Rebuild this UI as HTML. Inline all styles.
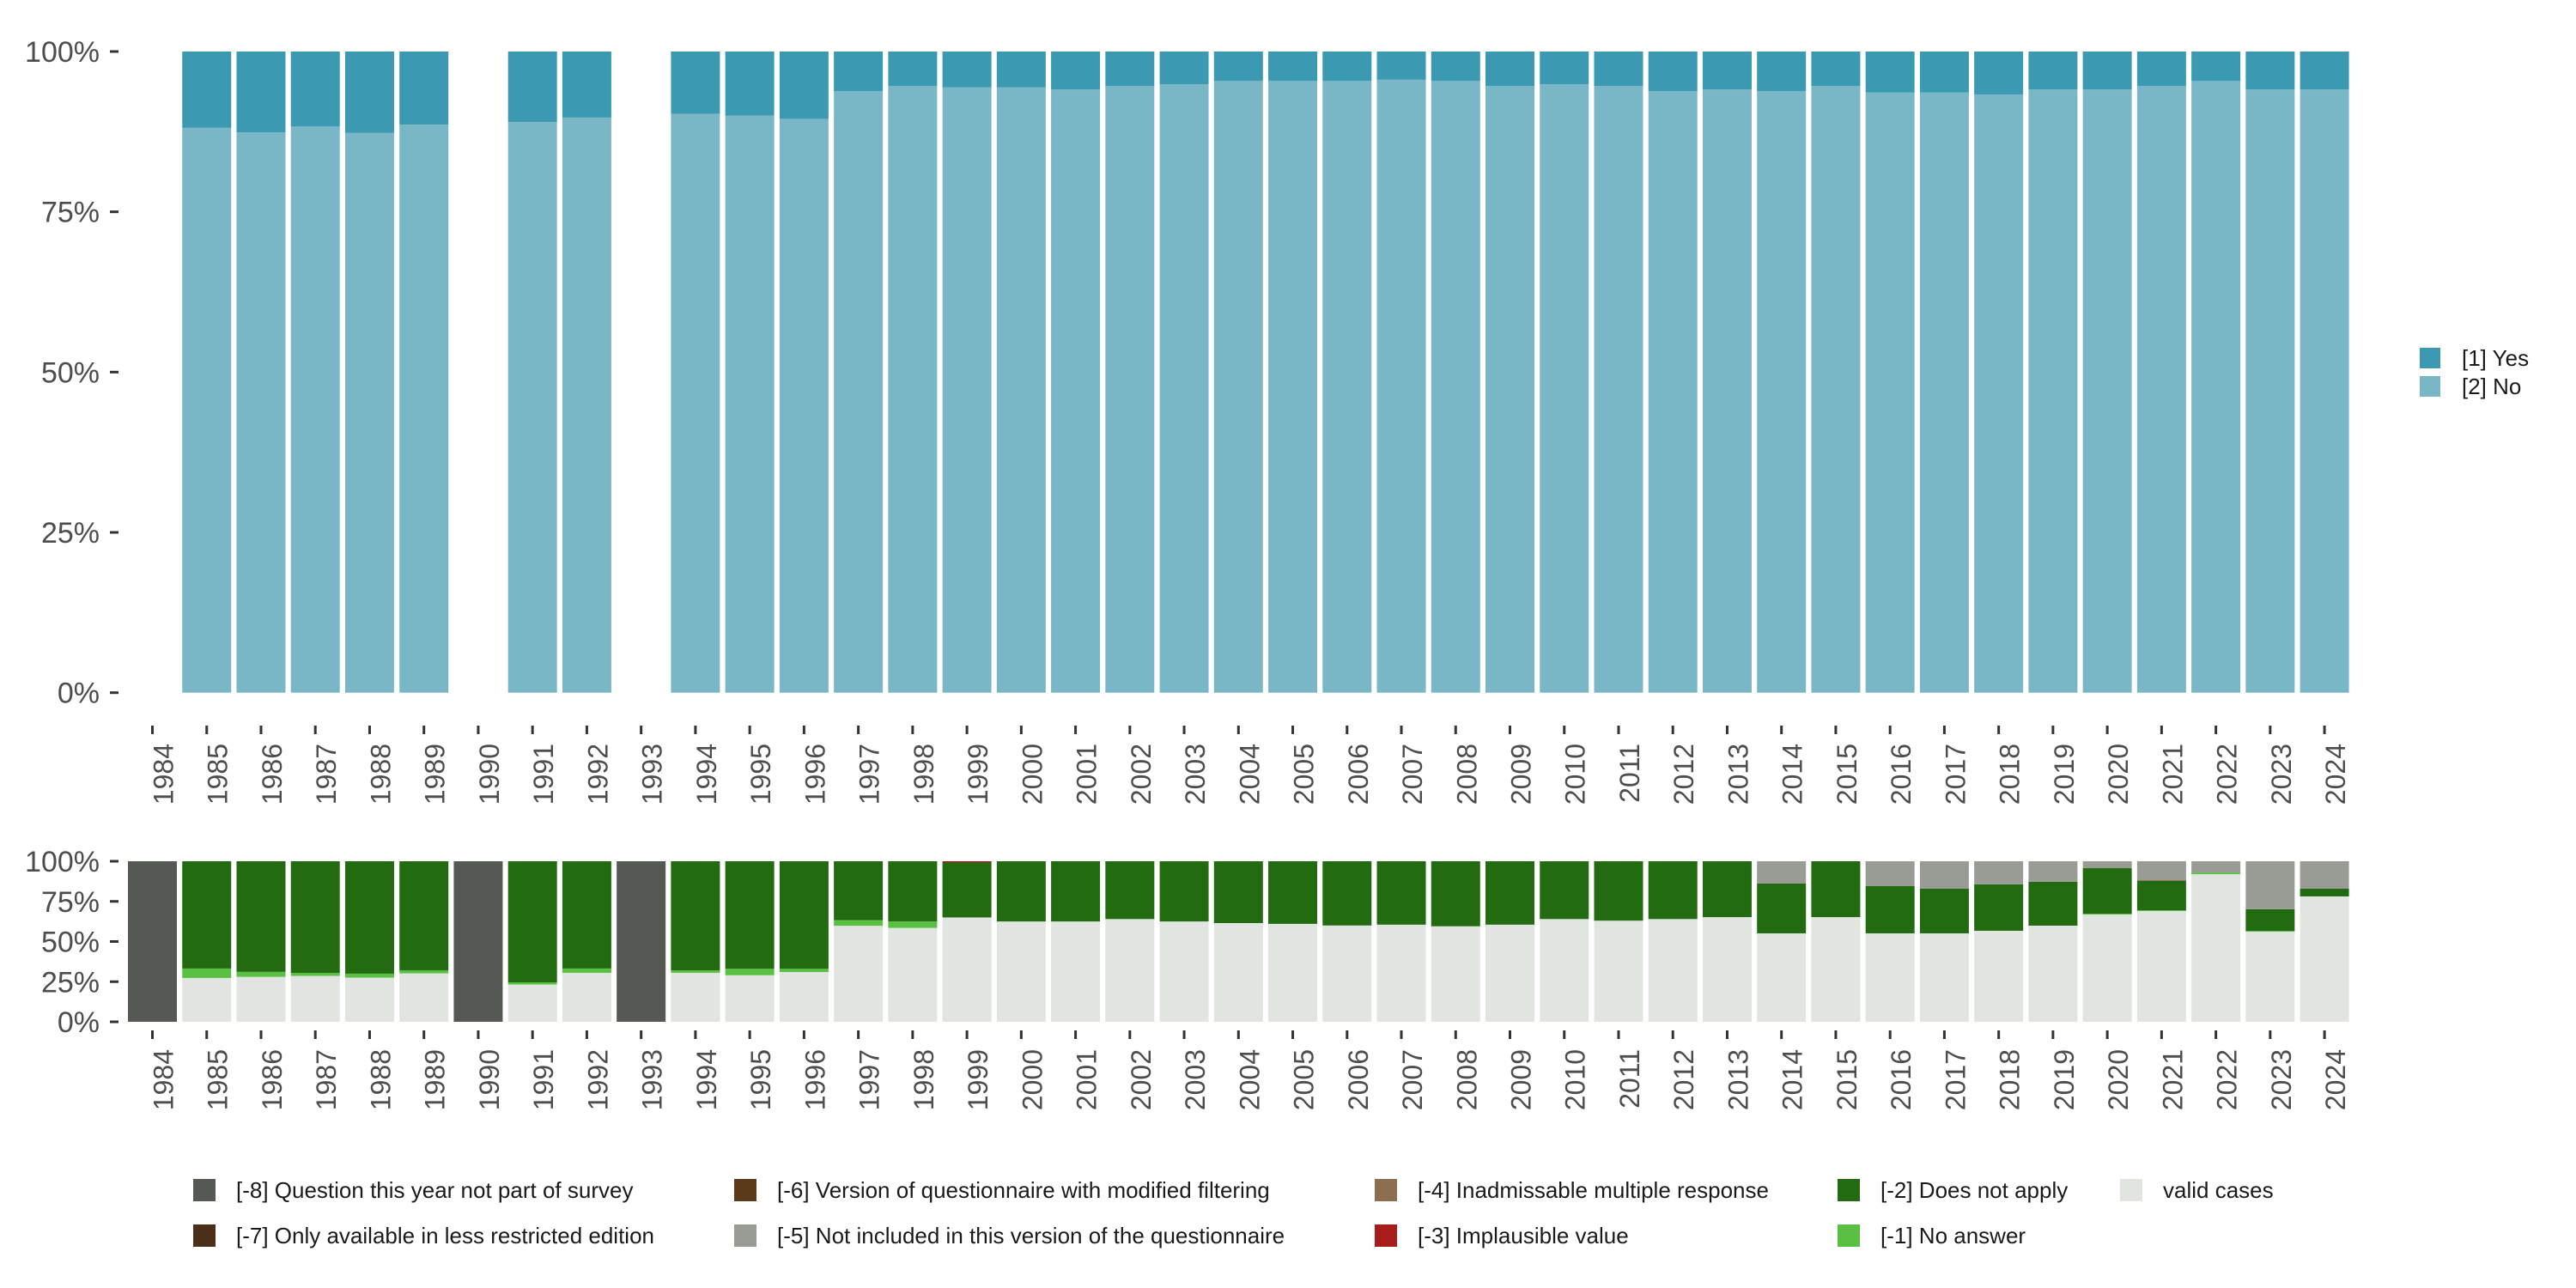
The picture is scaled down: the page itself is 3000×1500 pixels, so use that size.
<!DOCTYPE html>
<html><head><meta charset="utf-8"><style>
html,body{margin:0;padding:0;background:#fff;}
svg{display:block;font-family:"Liberation Sans",sans-serif;}
</style></head><body>
<svg id="chart" width="3000" height="1500" viewBox="0 0 3000 1500" xmlns="http://www.w3.org/2000/svg">
<g id="topPanel"></g>
<g id="botPanel"></g>
<g id="legTop"></g>
<g id="legBot"></g>
</svg>
<script>
const years = [];
for (let y = 1984; y <= 2024; y++) years.push(y);
const yAxisTicks = [0, 25, 50, 75, 100];
const yAxisLabels = ["0%", "25%", "50%", "75%", "100%"];
// top panel: share of "[2] No" (rest is "[1] Yes"); null = no data
const noShare = [null,88.1,87.4,88.3,87.3,88.6,null,89.0,89.7,null,90.3,90.0,89.5,93.8,94.6,94.4,94.4,94.1,94.6,94.9,95.4,95.4,95.4,95.6,95.4,94.6,94.9,94.6,93.8,94.1,93.8,94.6,93.6,93.6,93.3,94.1,94.1,94.6,95.4,94.1,94.1];
const yesShare = [null,11.9,12.6,11.7,12.7,11.4,null,11.0,10.3,null,9.7,10.0,10.5,6.2,5.4,5.6,5.6,5.9,5.4,5.1,4.6,4.6,4.6,4.4,4.6,5.4,5.1,5.4,6.2,5.9,6.2,5.4,6.4,6.4,6.7,5.9,5.9,5.4,4.6,5.9,5.9];
// bottom panel series (stacked bottom to top)
const validCases = [0,27.3,28.0,28.6,27.5,30.2,0,23.2,30.5,0,30.5,29.0,31.0,59.8,58.5,65.0,62.5,62.5,64,62.5,61.5,61,60,60.5,59.5,60.5,64,63,64,65.2,55.1,65.2,55.1,55.1,56.7,59.9,66.8,69.0,91.9,56.1,78.1];
const noAnswer = [0,5.9,3.1,1.9,2.5,1.9,0,1.4,2.7,0,1.5,4.0,2.0,3.5,4.0,0,0,0,0,0,0,0,0,0,0,0,0,0,0,0,0,0,0,0,0,0,0.5,0.5,1.1,0.5,0];
const doesNotApply = [0,66.8,68.9,69.5,70.0,67.9,0,75.4,66.8,0,68.0,67.0,67.0,36.7,37.5,34.2,37.5,37.5,36,37.5,38.5,39,40,39.5,40.5,39.5,36,37,36,34.8,31.0,34.8,29.4,27.8,28.9,27.3,28.4,18.2,0,13.5,4.8];
const implausible = [0,0,0,0,0,0,0,0,0,0,0,0,0,0,0,0.8,0,0,0,0,0,0,0,0,0,0,0,0,0,0,0,0,0,0,0,0,0,0,0,0,0];
const inadmissable = [0,0,0,0,0,0,0,0,0,0,0,0,0,0,0,0,0,0,0,0,0,0,0,0,0,0,0,0,0,0,0,0,0,0,0,0,0,0.5,0,0,0];
const notIncluded = [0,0,0,0,0,0,0,0,0,0,0,0,0,0,0,0,0,0,0,0,0,0,0,0,0,0,0,0,0,0,13.9,0,15.5,17.1,14.4,12.8,4.3,11.8,7.0,29.9,17.1];
const notPart = [100,0,0,0,0,0,100,0,0,100,0,0,0,0,0,0,0,0,0,0,0,0,0,0,0,0,0,0,0,0,0,0,0,0,0,0,0,0,0,0,0];

const NS = "http://www.w3.org/2000/svg";
function mk(parent, tag, attrs, text) {
  const e = document.createElementNS(NS, tag);
  for (const k in attrs) e.setAttribute(k, attrs[k]);
  if (text !== undefined) e.textContent = text;
  parent.appendChild(e);
  return e;
}
const pitch = 63.24, x0 = 177.5, barW = 57;
function xPos(i) { return x0 + i * pitch; }
function yTop(v) { return 806.7 - v / 100 * 746.7; }
function yBot(v) { return 1190 - v / 100 * 187; }

function axes(g, yFn, labelEndY, tickY) {
  yAxisTicks.forEach((t, k) => {
    const tk = mk(g, "rect", {x:128, y:yFn(t)-1.5, width:10, height:3, fill:"#333"});
    
    
    const lb = mk(g, "text", {x:116, y:yFn(t)+12, "text-anchor":"end", "font-size":34, fill:"#4d4d4d"}, yAxisLabels[k]);
    
    
  });
  years.forEach((yr, i) => {
    const x = xPos(i);
    const tk = mk(g, "rect", {x:x-1.5, y:tickY, width:3, height:10, fill:"#333"});
    
    
    const lb = mk(g, "text", {x:0, y:0, "text-anchor":"end", "font-size":32, fill:"#4d4d4d",
      transform:"translate(" + (x + 24) + "," + labelEndY + ") rotate(-90)"}, String(yr));
    
    
  });
}

const topG = document.getElementById("topPanel");
axes(topG, yTop, 866, 845);
years.forEach((yr, i) => {
  if (noShare[i] === null) return;
  const x = xPos(i) - barW / 2;
  const r1 = mk(topG, "rect", {x:x, y:yTop(noShare[i]), width:barW, height:yTop(0)-yTop(noShare[i]), fill:"#7ab7c6"});
  
  
  const r2 = mk(topG, "rect", {x:x, y:yTop(noShare[i] + yesShare[i]), width:barW, height:yTop(noShare[i])-yTop(noShare[i]+yesShare[i]), fill:"#3b99b1"});
  
  
});

const botG = document.getElementById("botPanel");
axes(botG, yBot, 1222, 1200);
const stack = [
  [validCases, "#e0e5e0", "valid"],
  [noAnswer, "#5ac044", "no-answer"],
  [doesNotApply, "#226b10", "does-not-apply"],
  [implausible, "#a81d1a", "implausible"],
  [inadmissable, "#8d6e4f", "inadmissable"],
  [notIncluded, "#989c95", "not-included"],
  [notPart, "#545a53", "not-part"]
];
years.forEach((yr, i) => {
  let cum = 0;
  const x = xPos(i) - barW / 2;
  stack.forEach(s => {
    const v = s[0][i];
    if (v > 0) {
      const t2 = Math.min(100, cum + v);
      const r = mk(botG, "rect", {x:x, y:yBot(t2), width:barW, height:yBot(cum)-yBot(t2), fill:s[1]});
      
      
    }
    cum += v;
  });
});

const lt = document.getElementById("legTop");
[["[1] Yes", "#3b99b1", 405], ["[2] No", "#7ab7c6", 438]].forEach(e => {
  const r = mk(lt, "rect", {x:2818, y:e[2], width:24, height:24, fill:e[1]});
  
  
  const t = mk(lt, "text", {x:2867, y:e[2]+21, "font-size":26, fill:"#1a1a1a"}, e[0]);
  
  
});

const lbG = document.getElementById("legBot");
const legItems = [
  ["[-8] Question this year not part of survey", "#545a53", 225, 1373],
  ["[-7] Only available in less restricted edition", "#4a3018", 225, 1426],
  ["[-6] Version of questionnaire with modified filtering", "#5a3a18", 855, 1373],
  ["[-5] Not included in this version of the questionnaire", "#989c95", 855, 1426],
  ["[-4] Inadmissable multiple response", "#8d6e4f", 1601, 1373],
  ["[-3] Implausible value", "#a81d1a", 1601, 1426],
  ["[-2] Does not apply", "#226b10", 2140, 1373],
  ["[-1] No answer", "#5ac044", 2140, 1426],
  ["valid cases", "#e0e5e0", 2469, 1373]
];
legItems.forEach(e => {
  const r = mk(lbG, "rect", {x:e[2], y:e[3], width:26, height:26, fill:e[1]});
  
  
  const t = mk(lbG, "text", {x:e[2]+50, y:e[3]+22, "font-size":26, fill:"#1a1a1a"}, e[0]);
  
  
});
</script>
</body></html>
